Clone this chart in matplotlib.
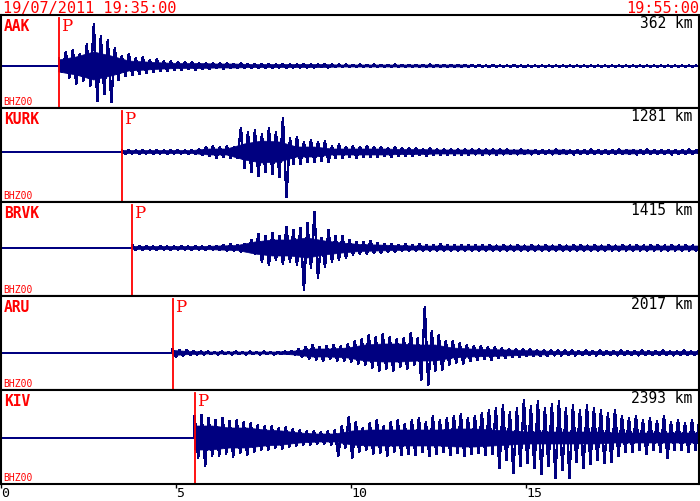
import numpy as np
import matplotlib
matplotlib.use('Agg')
import matplotlib.pyplot as plt

# header / station info
start_label = '19/07/2011 19:35:00'
end_label = '19:55:00'
stations = ['AAK', 'KURK', 'BRVK', 'ARU', 'KIV']
distances = ['362 km', '1281 km', '1415 km', '2017 km', '2393 km']
channel = 'BHZ00'
p_times = [1.65, 3.45, 3.75, 4.9, 5.53]   # minutes after 19:35
step = 0.2        # minutes between peak readings
core_step = 0.5   # minutes between readings of the dense core band
xticks = [0, 5, 10, 15]

# peak readings (upper / lower amplitude, screen pixels) from P onwards
aak_up = [8, 14, 16, 12, 22, 42, 30, 26, 18, 10,
          12, 8, 9, 6, 7, 5, 5, 4, 4, 4,
          3, 3, 3, 3, 3, 2, 3, 2, 2, 2,
          2, 2, 2, 2, 1.5, 2, 1.5, 1.5, 2, 1.5,
          1.5, 1.5, 1, 1.5, 1, 1.5, 1, 1, 1.5, 1,
          1, 1, 1, 1.5, 1, 1, 1, 1, 1, 1,
          1, 0.5, 1, 0.5, 0.5, 1, 0.5, 0.5, 0.5, 0.5,
          0.5, 0.5, 0.5, 0.5, 0.5, 0.5, 0.5, 0.5, 0.5, 0.5,
          0.5, 0.5, 0.5, 0.5, 0.5, 0.5, 0.5, 0.5, 0.5, 0.5,
          0.5, 0.5]
aak_lo = [6, 12, 18, 15, 20, 35, 28, 36, 14, 10,
          9, 8, 7, 6, 5, 5, 4, 4, 3, 4,
          3, 3, 2, 3, 2, 2, 2, 2, 2, 2,
          2, 1.5, 2, 1.5, 1.5, 1.5, 1.5, 1, 1.5, 1,
          1, 1, 1, 1, 1, 1, 1, 1, 1, 1,
          1, 1, 1, 1, 1, 1, 1, 1, 1, 1,
          0.5, 1, 0.5, 0.5, 0.5, 0.5, 1, 0.5, 0.5, 0.5,
          0.5, 0.5, 0.5, 0.5, 0.5, 0.5, 0.5, 0.5, 0.5, 0.5,
          0.5, 0.5, 0.5, 0.5, 0.5, 0.5, 0.5, 0.5, 0.5, 0.5,
          0.5, 0.5]

kurk_up = [2, 2, 1.5, 2, 1.5, 2, 1.5, 2, 2, 1.5,
           2, 3, 5, 6, 5, 6, 5, 24, 20, 22,
           18, 24, 20, 34, 14, 15, 10, 12, 10, 11,
           6, 8, 5, 6, 5, 6, 5, 5, 4, 5,
           4, 4, 4, 3, 4, 3, 3, 3, 3, 3,
           3, 2.5, 3, 2.5, 3, 2.5, 2, 3, 2, 2,
           2, 2, 2.5, 2, 2, 2, 2, 2.5, 2, 2,
           2, 2.5, 2, 2, 2, 2.5, 2, 2, 2, 2,
           2, 2.5, 2]
kurk_lo = [2, 1.5, 2, 1.5, 2, 1.5, 2, 1.5, 1.5, 2,
           2, 3, 4, 6, 5, 6, 6, 16, 20, 24,
           20, 22, 25, 45, 12, 12, 10, 10, 9, 10,
           6, 6, 5, 6, 5, 5, 5, 4, 5, 4,
           4, 4, 3, 4, 3, 3, 3, 3, 3, 3,
           2.5, 3, 2.5, 3, 2.5, 2, 2.5, 2, 2.5, 2,
           2, 2.5, 2, 2, 2.5, 2, 2, 2, 2, 2,
           2, 2, 2, 2.5, 2, 2, 2, 2, 2.5, 2,
           2, 2, 2]

brvk_up = [3, 2, 2, 1.5, 2, 1.5, 1.5, 2, 1.5, 2,
           1.5, 2, 2, 3, 4, 3, 4, 8, 14, 12,
           15, 12, 21, 18, 20, 25, 36, 10, 18, 12,
           12, 8, 6, 6, 7, 5, 4, 4, 3, 4,
           3, 4, 3, 3, 4, 3, 3, 3, 3, 3,
           3, 3, 2.5, 3, 2.5, 3, 2.5, 3, 2.5, 3,
           2.5, 3, 2.5, 3, 3, 2.5, 3, 2.5, 3, 2.5,
           3, 2.5, 3, 2.5, 3, 3, 2.5, 3, 2.5, 3,
           2.5, 3]
brvk_lo = [2, 2, 1.5, 2, 1.5, 2, 1.5, 1.5, 2, 1.5,
           2, 1.5, 2, 3, 3, 4, 3, 6, 14, 17,
           12, 16, 14, 17, 42, 20, 30, 19, 14, 12,
           10, 7, 6, 6, 5, 5, 4, 4, 3, 3,
           3, 3, 3, 3, 3, 3, 3, 3, 3, 3,
           3, 2.5, 3, 2.5, 3, 2.5, 3, 2.5, 3, 2.5,
           3, 2.5, 3, 2.5, 2.5, 3, 2.5, 3, 2.5, 3,
           2.5, 3, 2.5, 3, 2.5, 2.5, 3, 2.5, 3, 2.5,
           3, 2.5]

aru_up = [4, 3, 3, 2, 1.5, 1.5, 1, 1.5, 1, 1.5,
          1, 1.5, 1, 1.5, 1, 1, 1.5, 2, 4, 6,
          8, 6, 7, 8, 7, 9, 12, 14, 18, 16,
          19, 16, 14, 15, 20, 15, 46, 22, 18, 12,
          12, 10, 8, 7, 7, 6, 6, 5, 4, 4,
          4, 4, 3, 3, 3, 2.5, 2.5, 2.5, 2, 2.5,
          2, 2.5, 2, 2, 2.5, 2, 2, 2.5, 2, 2,
          2.5, 2, 2, 2.5, 2, 2]
aru_lo = [4, 3, 2, 1.5, 1.5, 1, 1.5, 1, 1.5, 1,
          1.5, 1, 1.5, 1, 1.5, 1, 1, 2, 4, 6,
          7, 8, 6, 8, 8, 9, 11, 12, 15, 18,
          16, 18, 14, 16, 12, 27, 32, 18, 17, 12,
          10, 11, 8, 7, 6, 7, 5, 5, 4, 4,
          3, 3, 3, 3, 2.5, 2.5, 2, 2.5, 2, 2,
          2.5, 2, 2, 2.5, 2, 2, 2.5, 2, 2, 2,
          2, 2.5, 2, 2, 2, 2]

kiv_up = [22, 23, 20, 18, 20, 17, 18, 16, 15, 13,
          12, 12, 10, 11, 9, 8, 7, 7, 6, 7,
          8, 12, 21, 16, 10, 15, 18, 12, 16, 18,
          14, 18, 20, 16, 22, 18, 20, 22, 24, 20,
          22, 25, 28, 30, 33, 26, 30, 38, 32, 37,
          30, 34, 37, 30, 33, 28, 33, 30, 28, 25,
          28, 22, 20, 22, 18, 20, 17, 22, 16, 18,
          15, 18, 16]
kiv_lo = [20, 28, 18, 18, 16, 19, 15, 17, 14, 12,
          12, 10, 11, 9, 8, 7, 7, 6, 6, 7,
          18, 10, 20, 14, 12, 16, 15, 18, 14, 17,
          16, 17, 14, 18, 16, 14, 17, 15, 18, 16,
          15, 17, 16, 30, 22, 35, 28, 25, 30, 36,
          28, 40, 32, 40, 24, 30, 26, 22, 25, 24,
          18, 14, 14, 12, 16, 12, 14, 20, 12, 12,
          14, 12, 12]

# half-width of the dense (solid) part of each trace, every 0.5 min from P
aak_core = [6, 9, 14, 10, 5, 4, 3, 2.5, 2.5, 2,
            2, 1.5, 1.5, 1.5, 1.5, 1.5, 1, 1, 1, 1,
            1, 1, 1, 1, 0.5, 0.5, 0.5, 0.5, 0.5, 0.5,
            0.5, 0.5, 0.5, 0.5, 0.5, 0.5, 0.5, 0.5]
kurk_core = [1.5, 1.5, 1.5, 1.5, 1.5, 3, 3, 8, 11, 10,
             5, 5, 3, 3, 3, 3, 2.5, 2.5, 2, 2,
             2, 2, 2, 2, 1.5, 2, 1.5, 1.5, 1.5, 2,
             1.5, 1.5, 1.5, 1.5]
brvk_core = [1.5, 1.5, 1.5, 1.5, 1.5, 2, 2.5, 6, 8, 8,
             10, 7, 5, 3.5, 3, 2.5, 2, 2, 2, 2,
             2, 2, 2, 2, 2, 2, 2, 2, 2, 2,
             2, 2, 2, 2]
aru_core = [2.5, 1.5, 1, 1, 1, 1, 1, 2, 4, 4,
            5, 8, 9, 9, 8, 8, 5, 4, 3.5, 3,
            2.5, 2, 1.5, 1.5, 1.5, 1.5, 1.5, 1.5, 1.5, 1.5,
            1.5, 1.5]
kiv_core = [12, 12, 10, 10, 8, 7, 5, 4, 4, 7,
            8, 8, 8, 8, 8, 9, 9, 8, 7, 6,
            6, 6, 6, 6, 5, 5, 5, 5, 5, 5]

uppers = [aak_up, kurk_up, brvk_up, aru_up, kiv_up]
lowers = [aak_lo, kurk_lo, brvk_lo, aru_lo, kiv_lo]
cores = [aak_core, kurk_core, brvk_core, aru_core, kiv_core]

# layout in screen pixels
W, H = 700, 501
tops = [15, 108, 202, 296, 390]
bottom = 484
baselines = [66, 152, 248, 353, 438]
trace_col = '#000080'
red = '#ff0000'
mono = 'DejaVu Sans Mono'

fig = plt.figure(figsize=(W / 100, H / 100), dpi=100)
fig.patch.set_facecolor('white')

fig.text(3 / W, 1 - 1 / H, start_label, color=red, fontsize=11,
         family=mono, ha='left', va='top')
fig.text(699 / W, 1 - 1 / H, end_label, color=red, fontsize=11,
         family=mono, ha='right', va='top')

bounds = tops + [bottom]
for k, name in enumerate(stations):
    top, bot = bounds[k], bounds[k + 1]
    ax = fig.add_axes([1 / W, 1 - bot / H, 698 / W, (bot - top) / H])
    ax.set_xlim(0, 19.93)
    ax.set_ylim(-(bot - baselines[k]), baselines[k] - top)

    up = np.array(uppers[k], dtype=float)
    lo = np.array(lowers[k], dtype=float)
    t = p_times[k] + step * np.arange(len(up))

    # dense core of the record as a solid band
    core = np.array(cores[k], dtype=float)
    tc = p_times[k] + core_step * np.arange(len(core))
    ax.fill(np.concatenate([tc, tc[::-1]]), np.concatenate([core, -core[::-1]]),
            color=trace_col, lw=0.5)

    # peaks: zigzag between the upper / lower readings
    x = np.empty(2 * len(t))
    y = np.empty(2 * len(t))
    x[0::2] = t
    x[1::2] = t + step / 2
    y[0::2] = up
    y[1::2] = -lo
    x = np.concatenate([[0, p_times[k]], x])
    y = np.concatenate([[0, 0], y])
    ax.plot(x, y, color=trace_col, lw=1.0, antialiased=False)

    # P arrival marker
    ax.plot([p_times[k], p_times[k]], [-(bot - baselines[k]), baselines[k] - top - 3],
            color=red, lw=1.3)
    ax.text(p_times[k] + 0.06, baselines[k] - top - 3, 'P', color=red,
            fontsize=12, family='DejaVu Serif', va='top', ha='left')

    ax.text(3 / 698, 1 - 4 / (bot - top), name, transform=ax.transAxes,
            color=red, fontsize=10.5, fontweight='bold', family=mono,
            ha='left', va='top')
    ax.text(691 / 698, 1 - 1 / (bot - top), distances[k], transform=ax.transAxes,
            color='black', fontsize=10.5, family=mono, ha='right', va='top')
    ax.text(2 / 698, 1 / (bot - top), channel, transform=ax.transAxes,
            color=red, fontsize=7, family=mono, ha='left', va='bottom')

    for s in ax.spines.values():
        s.set_linewidth(1.5)
        s.set_color('black')
    ax.set_yticks([])
    if k < len(stations) - 1:
        ax.set_xticks([])
    else:
        ax.set_xticks(xticks)
        ax.set_xticklabels([str(v) for v in xticks], family=mono, fontsize=9.5,
                           ha='left')
        ax.tick_params(axis='x', length=3, width=1, pad=-1, colors='black')

fig.savefig('out.png', dpi=100, facecolor='white')
